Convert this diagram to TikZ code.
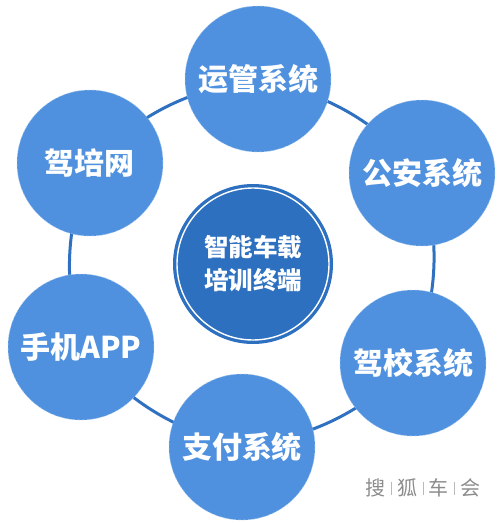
\documentclass[tikz,border=0pt]{standalone}
\usepackage{fontspec}
\usetikzlibrary{backgrounds}
\newfontfamily\cjk{Noto Sans CJK SC}
\definecolor{petalblue}{RGB}{79,145,222}
\definecolor{hubblue}{RGB}{45,112,192}
\definecolor{ringblue}{RGB}{47,113,192}
\newcommand\marksep{\hspace{5.5pt}\textcolor{gray!55}{\rule[0.05em]{0.6pt}{0.65em}}\hspace{5.5pt}}
\begin{document}
\begin{tikzpicture}[x=1pt,y=-1pt,
  petal/.style={circle,fill=petalblue,draw=white!45!petalblue,densely dashed,
    line width=0.5pt,minimum size=146pt,inner sep=0pt,text=white,
    font=\cjk\bfseries\fontsize{30}{34}\selectfont},
  hub/.style={circle,fill=hubblue,minimum size=160pt,inner sep=0pt,
    text=white,align=center,font=\cjk\bfseries\fontsize{24.5}{33}\selectfont},
  ring/.style={draw=ringblue,line width=3pt,bend left=17}]
\useasboundingbox (0,0) rectangle (502,523);
% centre
\node[hub] (hub) at (253,264) {智能车载\\培训终端};
\draw[white,line width=1.4pt] (hub.center) circle (76pt);
% outer systems
\node[petal] (yunguan) at (258,79) {运管系统};
\node[petal] (gongan) at (422,173) {公安系统};
\node[petal] (jiaxiao) at (413,363) {驾校系统};
\node[petal] (zhifu) at (242,447) {支付系统};
\node[petal] (shouji) at (81,347) {手机APP};
\node[petal] (jiapei) at (90,163) {驾培网};
% ring, behind the circles
\begin{scope}[on background layer]
\draw[ring] (yunguan.center) to (gongan.center);
\draw[ring] (gongan.center) to (jiaxiao.center);
\draw[ring] (jiaxiao.center) to (zhifu.center);
\draw[ring] (zhifu.center) to (shouji.center);
\draw[ring] (shouji.center) to (jiapei.center);
\draw[ring] (jiapei.center) to (yunguan.center);
\end{scope}
% watermark
\node[font=\cjk\fontsize{20}{20}\selectfont,text=gray!90] (mark) at (423,488)
  {搜\marksep 狐\marksep 车\marksep 会};
\end{tikzpicture}
\end{document}
